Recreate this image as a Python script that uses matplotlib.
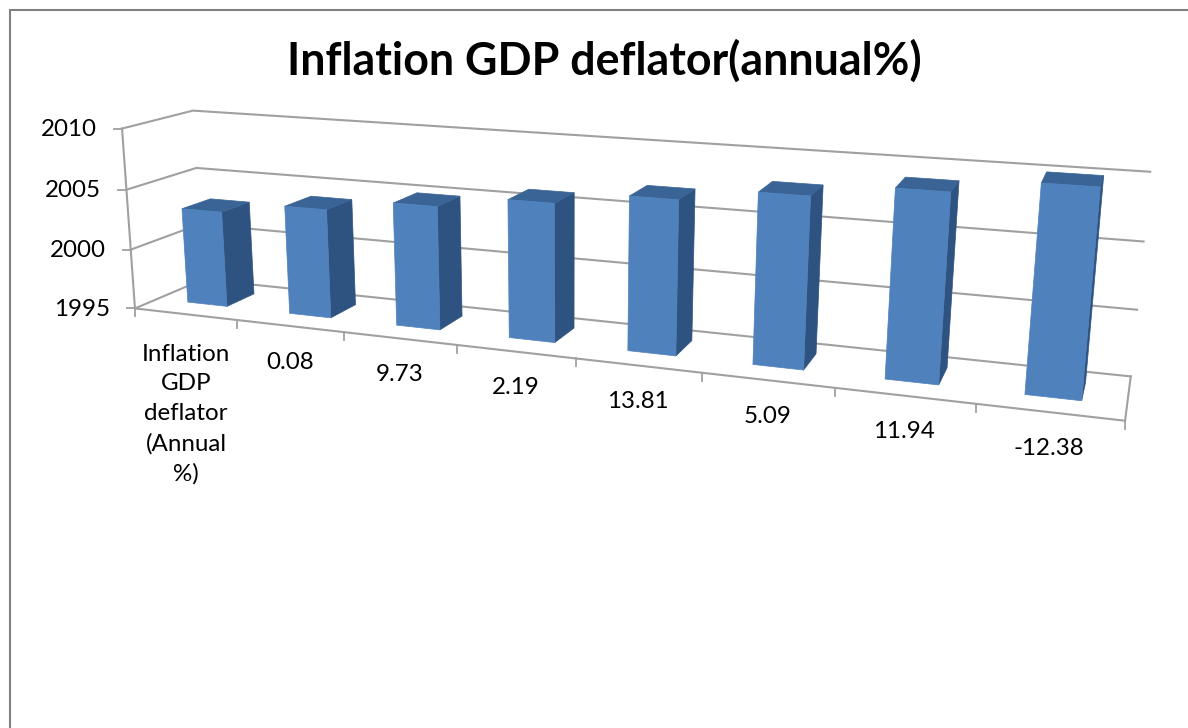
import numpy as np
import matplotlib
matplotlib.use("Agg")
import matplotlib.pyplot as plt
from matplotlib.patches import Polygon

plt.rcParams['font.family'] = ['Lato', 'DejaVu Sans']

categories = ["Inflation\nGDP\ndeflator\n(Annual\n%)", "0.08", "9.73", "2.19", "13.81", "5.09", "11.94", "-12.38"]
years = [2003.0, 2003.95, 2004.95, 2005.95, 2006.95, 2007.95, 2008.95, 2010.0]
y_ticks = [1995, 2000, 2005, 2010]

# box corners on screen, used to fit the projection of the 3d box
# (u along categories, v depth, w height)
box = [(0, 0, 0), (0, 0, 1), (0, 1, 0), (0, 1, 1), (1, 1, 0), (1, 1, 1), (1, 0, 0)]
screen = [(137, 307), (120, 129), (201, 281), (195, 110), (1131, 375), (1150, 172), (1125, 422)]

rows = []
rhs = []
for (u, v, w), (px, py) in zip(box, screen):
    rows.append([u, v, w, 1, 0, 0, 0, 0, -px * u, -px * v, -px * w])
    rows.append([0, 0, 0, 0, u, v, w, 1, -py * u, -py * v, -py * w])
    rhs += [px, py]
m = np.linalg.lstsq(np.array(rows, float), np.array(rhs, float), rcond=None)[0]
P = np.append(m, 1).reshape(3, 4)


def proj(u, v, w):
    x, y, z = P @ np.array([u, v, w, 1.0])
    return x / z, y / z


def height(year):
    return (year - y_ticks[0]) / (y_ticks[-1] - y_ticks[0])


fig = plt.figure(figsize=(11.88, 7.28), dpi=100)
ax = fig.add_axes([0, 0, 1, 1])
ax.set_xlim(0, 1188)
ax.set_ylim(728, 0)
ax.axis("off")

# chart frame, cut off at the right and bottom
ax.plot([10, 10, 1188], [728, 10, 10], color="#808080", lw=1.5, solid_joinstyle="miter")

ax.text(604, 75, "Inflation GDP deflator(annual%)", ha="center", va="baseline",
        fontsize=32.2, fontweight="bold", color="black")

grid = "#a0a0a0"
# walls and gridlines
for year in y_ticks:
    w = height(year)
    pts = [proj(0, 0, w), proj(0, 1, w), proj(1, 1, w)]
    ax.plot(*zip(*pts), color=grid, lw=1.5, solid_joinstyle="miter")
    x0, y0 = proj(0, 0, w)
    ax.plot([x0 - 8, x0], [y0, y0], color=grid, lw=1.3)
    ax.text(x0 - 25, y0 + 1, str(year), ha="right", va="center", fontsize=17.4)

ax.plot(*zip(proj(0, 0, 0), proj(0, 0, 1)), color=grid, lw=1.5)
ax.plot(*zip(proj(1, 0, 0), proj(1, 1, 0)), color=grid, lw=1.5)
ax.plot(*zip(proj(0, 0, 0), proj(1, 0, 0)), color=grid, lw=1.5)

# category ticks and labels
n = len(categories)
for i in range(n + 1):
    x0, y0 = proj(i / n, 0, 0)
    ax.plot([x0, x0], [y0, y0 + 8], color=grid, lw=1.3)
for i, label in enumerate(categories):
    x0, y0 = proj((i + 0.5) / n, 0, 0)
    if i == 0:
        ax.text(186, 344, label, ha="center", va="top", fontsize=17.4, linespacing=1.5)
    else:
        ax.text(x0, y0 + 36, label, ha="center", va="center", fontsize=17.4)

# bars, left to right
for i, year in enumerate(years):
    w = height(year)
    u0 = (i + 0.5 - 0.195) / n
    u1 = (i + 0.5 + 0.195) / n
    v0, v1 = 0.32, 0.74
    front = [proj(u0, v0, 0), proj(u1, v0, 0), proj(u1, v0, w), proj(u0, v0, w)]
    side = [proj(u1, v0, 0), proj(u1, v1, 0), proj(u1, v1, w), proj(u1, v0, w)]
    top = [proj(u0, v0, w), proj(u1, v0, w), proj(u1, v1, w), proj(u0, v1, w)]
    ax.add_patch(Polygon(side, closed=True, fc="#2f5380", ec="#2f5380", lw=0.5, zorder=3))
    ax.add_patch(Polygon(top, closed=True, fc="#3a6496", ec="#3a6496", lw=0.5, zorder=3))
    ax.add_patch(Polygon(front, closed=True, fc="#4f81bd", ec="#4f81bd", lw=0.5, zorder=3))

fig.savefig("out.png", dpi=100)
